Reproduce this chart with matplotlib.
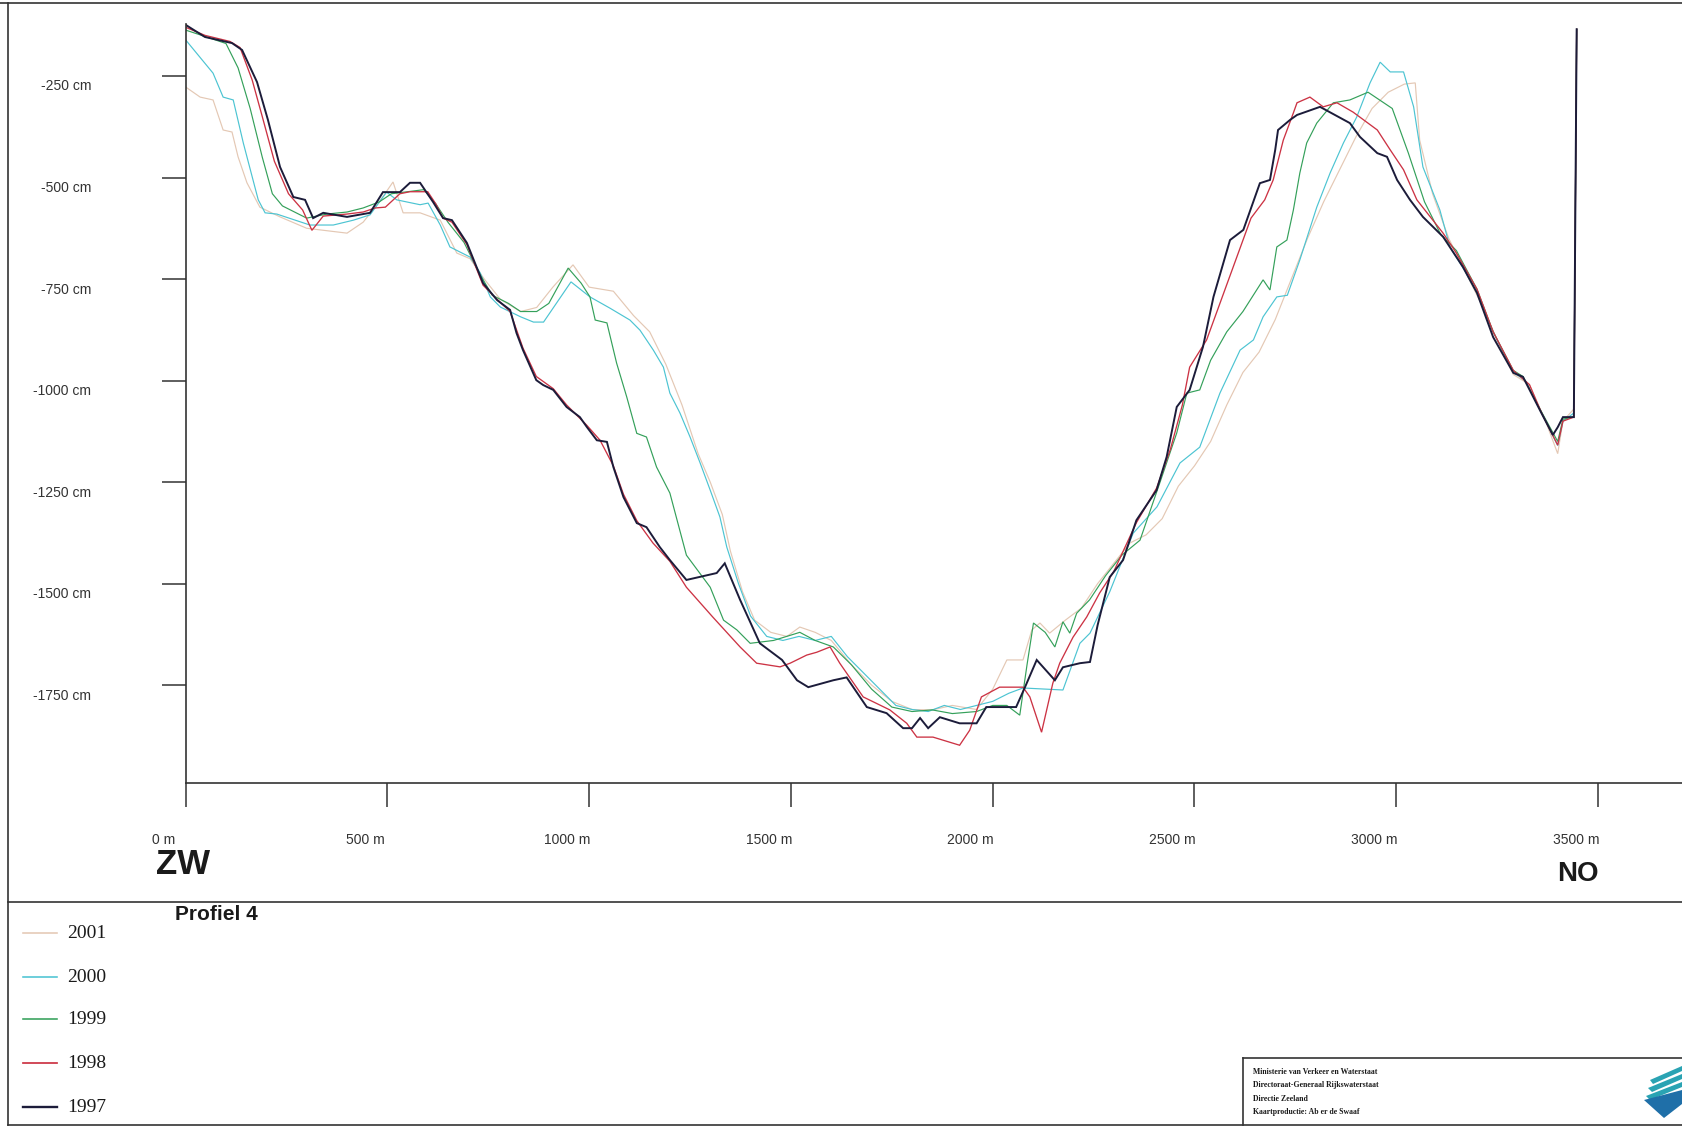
import matplotlib
matplotlib.use("Agg")
import matplotlib.pyplot as plt
from matplotlib.lines import Line2D
from matplotlib.patches import Polygon
from matplotlib.transforms import ScaledTranslation

W, H = 1682, 1127

years = ["2001", "2000", "1999", "1998", "1997"]
colors = ["#e4c8b4", "#4cc4d2", "#34a05a", "#cc3344", "#1c1c3a"]
widths = [0.85, 0.85, 0.85, 0.95, 1.4]

x1997 = [0, 48, 115, 140, 177, 204, 234, 267, 296, 316, 341, 400, 457, 489, 531, 556, 581, 613, 638, 660,
         697, 737, 772, 804, 820, 836, 869, 886, 911, 944, 977, 994, 1019, 1044, 1060, 1085, 1118, 1142, 1175,
         1200, 1241, 1316, 1336, 1374, 1423, 1478, 1515, 1543, 1605, 1638, 1688, 1737, 1778, 1800, 1820, 1840,
         1869, 1918, 1960, 1984, 2058, 2080, 2109, 2154, 2174, 2216, 2241, 2260, 2290, 2323, 2356, 2406, 2431,
         2456, 2488, 2521, 2547, 2588, 2621, 2662, 2687, 2700, 2707, 2737, 2754, 2811, 2885, 2910, 2953, 2977,
         3002, 3034, 3066, 3116, 3165, 3200, 3240, 3290, 3314, 3356, 3388, 3400, 3413, 3440, 3447]
y1997 = [-124, -154, -169, -186, -265, -358, -474, -548, -555, -600, -587, -597, -587, -536, -536, -513, -513,
         -560, -600, -605, -661, -760, -802, -826, -883, -925, -999, -1011, -1023, -1065, -1090, -1114, -1147,
         -1151, -1213, -1287, -1351, -1361, -1410, -1442, -1491, -1474, -1450, -1540, -1647, -1688, -1738, -1755,
         -1738, -1731, -1804, -1819, -1856, -1856, -1831, -1856, -1829, -1844, -1844, -1804, -1804, -1755, -1688,
         -1738, -1706, -1696, -1693, -1602, -1484, -1442, -1344, -1270, -1188, -1065, -1023, -917, -794, -654,
         -629, -514, -506, -432, -383, -358, -346, -326, -366, -400, -440, -449, -506, -555, -597, -646, -720,
         -784, -893, -981, -991, -1073, -1134, -1115, -1090, -1090, -135]

x1998 = [0, 48, 110, 135, 165, 190, 220, 255, 290, 313, 341, 400, 440, 470, 495, 531, 556, 600, 620, 638, 660,
         697, 737, 772, 804, 836, 869, 911, 944, 994, 1027, 1060, 1085, 1118, 1158, 1200, 1241, 1306, 1374, 1415,
         1473, 1498, 1539, 1564, 1597, 1621, 1679, 1745, 1787, 1812, 1852, 1918, 1943, 1972, 2017, 2075, 2092,
         2121, 2149, 2166, 2199, 2233, 2265, 2300, 2356, 2406, 2440, 2470, 2488, 2530, 2596, 2640, 2674, 2695,
         2720, 2745, 2754, 2786, 2819, 2853, 2893, 2953, 2985, 3018, 3051, 3116, 3149, 3200, 3240, 3290, 3330,
         3360, 3400, 3413, 3440, 3447]
y1998 = [-130, -150, -165, -180, -260, -350, -460, -540, -580, -630, -595, -590, -585, -575, -573, -540, -535,
         -535, -565, -600, -610, -665, -765, -800, -830, -920, -990, -1020, -1060, -1110, -1147, -1210, -1280,
         -1345, -1400, -1445, -1509, -1582, -1656, -1696, -1705, -1696, -1676, -1669, -1656, -1696, -1779, -1811,
         -1844, -1878, -1878, -1898, -1861, -1779, -1755, -1755, -1779, -1866, -1745, -1696, -1632, -1582, -1523,
         -1470, -1350, -1265, -1170, -1060, -967, -900, -720, -600, -555, -506, -408, -341, -316, -302, -326,
         -316, -339, -383, -432, -481, -555, -637, -686, -775, -880, -975, -1010, -1080, -1159, -1100, -1090, -135]

x1999 = [0, 40, 100, 130, 160, 190, 215, 240, 270, 300, 350, 400, 440, 480, 510, 550, 590, 620, 650, 690, 730,
         760, 800, 830, 870, 900, 948, 980, 1002, 1015, 1044, 1068, 1093, 1118, 1142, 1167, 1200, 1241, 1300,
         1333, 1366, 1399, 1457, 1522, 1560, 1605, 1650, 1700, 1750, 1800, 1850, 1900, 1960, 2000, 2035, 2067,
         2085, 2101, 2130, 2154, 2174, 2191, 2208, 2240, 2280, 2320, 2365, 2414, 2456, 2481, 2513, 2540, 2580,
         2620, 2670, 2687, 2704, 2729, 2745, 2761, 2778, 2803, 2844, 2885, 2930, 2990, 3030, 3070, 3110, 3149,
         3200, 3240, 3290, 3314, 3356, 3400, 3413, 3440, 3447]
y1999 = [-137, -150, -170, -230, -330, -450, -540, -570, -585, -600, -590, -585, -575, -560, -540, -535, -530,
         -565, -610, -660, -740, -790, -810, -830, -830, -810, -723, -760, -794, -851, -858, -957, -1040, -1130,
         -1139, -1213, -1277, -1430, -1509, -1590, -1614, -1647, -1640, -1620, -1640, -1656, -1700, -1760, -1804,
         -1815, -1811, -1820, -1815, -1800, -1800, -1824, -1700, -1597, -1620, -1656, -1594, -1622, -1573, -1540,
         -1480, -1430, -1393, -1252, -1129, -1031, -1023, -950, -880, -830, -752, -777, -671, -654, -580, -489,
         -415, -366, -316, -309, -290, -330, -440, -560, -640, -680, -775, -880, -975, -990, -1070, -1150, -1095,
         -1090, -135]

x2000 = [0, 68, 93, 118, 143, 180, 197, 226, 308, 366, 416, 457, 498, 523, 581, 601, 631, 655, 705, 730, 755,
         780, 830, 862, 887, 955, 1002, 1052, 1101, 1126, 1159, 1184, 1200, 1225, 1250, 1275, 1300, 1324, 1341,
         1370, 1400, 1440, 1480, 1520, 1560, 1600, 1640, 1680, 1720, 1760, 1800, 1840, 1880, 1920, 1960, 2000,
         2040, 2075, 2174, 2216, 2241, 2290, 2348, 2407, 2464, 2513, 2563, 2613, 2646, 2670, 2704, 2730, 2761,
         2803, 2836, 2869, 2902, 2935, 2960, 2985, 3018, 3043, 3066, 3108, 3133, 3170, 3200, 3240, 3290, 3320,
         3360, 3400, 3413, 3440, 3447]
y2000 = [-161, -243, -302, -309, -415, -555, -587, -590, -617, -617, -605, -592, -536, -555, -567, -563, -617,
         -671, -696, -735, -794, -819, -843, -856, -856, -757, -794, -822, -851, -876, -925, -967, -1031, -1080,
         -1139, -1203, -1270, -1336, -1410, -1500, -1580, -1630, -1640, -1630, -1640, -1630, -1680, -1720, -1760,
         -1800, -1810, -1815, -1800, -1810, -1800, -1790, -1770, -1757, -1762, -1647, -1622, -1520, -1376, -1311,
         -1203, -1164, -1031, -925, -900, -843, -794, -790, -703, -573, -489, -415, -351, -267, -216, -240, -240,
         -326, -474, -580, -671, -730, -785, -880, -980, -1000, -1080, -1160, -1100, -1080, -135]

x2001 = [0, 36, 68, 93, 115, 130, 152, 184, 234, 300, 400, 440, 480, 514, 539, 581, 631, 672, 705, 740, 780,
         830, 870, 910, 960, 1000, 1060, 1110, 1150, 1190, 1230, 1270, 1300, 1330, 1350, 1380, 1410, 1450, 1490,
         1522, 1560, 1600, 1650, 1700, 1750, 1800, 1850, 1900, 1960, 2000, 2035, 2075, 2097, 2117, 2141, 2180,
         2220, 2260, 2300, 2340, 2380, 2420, 2460, 2500, 2540, 2580, 2620, 2660, 2700, 2740, 2780, 2820, 2860,
         2900, 2940, 2980, 3020, 3047, 3058, 3090, 3130, 3170, 3210, 3250, 3290, 3330, 3370, 3400, 3413, 3440,
         3447]
y2001 = [-277, -302, -309, -383, -388, -449, -513, -573, -597, -625, -637, -610, -560, -511, -587, -587, -605,
         -686, -700, -750, -800, -830, -820, -770, -715, -770, -780, -840, -880, -960, -1060, -1180, -1250, -1330,
         -1420, -1520, -1590, -1620, -1630, -1607, -1620, -1640, -1700, -1750, -1790, -1810, -1811, -1800, -1810,
         -1760, -1688, -1688, -1614, -1597, -1622, -1590, -1560, -1500, -1450, -1400, -1380, -1340, -1260, -1210,
         -1150, -1060, -980, -930, -850, -750, -650, -560, -480, -400, -330, -290, -270, -267, -408, -540, -650,
         -730, -810, -900, -985, -1010, -1100, -1180, -1100, -1070, -135]

series_x = [x2001, x2000, x1999, x1998, x1997]
series_y = [y2001, y2000, y1999, y1998, y1997]

yticks = [-250, -500, -750, -1000, -1250, -1500, -1750]
ytick_labels = ["-250 cm", "-500 cm", "-750 cm", "-1000 cm", "-1250 cm", "-1500 cm", "-1750 cm"]
xticks = [0, 500, 1000, 1500, 2000, 2500, 3000, 3500]
xtick_labels = ["0 m", "500 m", "1000 m", "1500 m", "2000 m", "2500 m", "3000 m", "3500 m"]

plt.rcParams["font.family"] = ["Liberation Sans", "DejaVu Sans"]

fig = plt.figure(figsize=(W / 100, H / 100), dpi=100)
fig.patch.set_facecolor("white")


def fx(X):
    return X / W


def fy(Y):
    return 1 - Y / H


ax = fig.add_axes([fx(185.6), fy(783), fx(W) - fx(185.6), fy(24) - fy(783)])
ax.set_xlim(0, 3708)
ax.set_ylim(-1991, -122)
for s in ["top", "right"]:
    ax.spines[s].set_visible(False)
for s in ["left", "bottom"]:
    ax.spines[s].set_color("#333333")
    ax.spines[s].set_linewidth(1.2)

for xs, ys, c, lw in zip(series_x, series_y, colors, widths):
    ax.plot(xs, ys, color=c, lw=lw, solid_joinstyle="miter")

ax.set_yticks(yticks)
ax.set_yticklabels(ytick_labels)
ax.set_xticks(xticks)
ax.set_xticklabels(xtick_labels)
ax.tick_params(axis="both", direction="out", length=17, width=1.1, color="#333333",
               labelsize=10, labelcolor="#333333")
ax.tick_params(axis="y", pad=51)
ax.tick_params(axis="x", pad=19)
for lab in ax.get_yticklabels():
    lab.set_transform(lab.get_transform() + ScaledTranslation(0, -0.09, fig.dpi_scale_trans))
for lab in ax.get_xticklabels():
    lab.set_transform(lab.get_transform() + ScaledTranslation(-0.22, 0, fig.dpi_scale_trans))

# direction labels and title
fig.text(fx(156), fy(864), "ZW", fontsize=25, fontweight="bold", color="#1a1a1a", va="center", ha="left")
fig.text(fx(1599), fy(874), "NO", fontsize=20, fontweight="bold", color="#1a1a1a", va="center", ha="right")
fig.text(fx(175), fy(914), "Profiel 4", fontsize=15, fontweight="bold", color="#1a1a1a", va="center", ha="left")

# frame lines
frame_kw = dict(color="#333333", lw=1.2, transform=fig.transFigure)
fig.add_artist(Line2D([fx(0), fx(W)], [fy(3), fy(3)], **frame_kw))
fig.add_artist(Line2D([fx(8), fx(8)], [fy(3), fy(1125)], **frame_kw))
fig.add_artist(Line2D([fx(8), fx(W)], [fy(1125), fy(1125)], **frame_kw))
fig.add_artist(Line2D([fx(8), fx(W)], [fy(902), fy(902)], **frame_kw))
fig.add_artist(Line2D([fx(1243), fx(W)], [fy(1058), fy(1058)], **frame_kw))
fig.add_artist(Line2D([fx(1243), fx(1243)], [fy(1058), fy(1125)], **frame_kw))

# legend
leg_y = [933, 977, 1019, 1063, 1107]
for yr, c, lw, Y in zip(years, colors, widths, leg_y):
    fig.add_artist(Line2D([fx(23), fx(57)], [fy(Y), fy(Y)], color=c, lw=lw + 0.3,
                          transform=fig.transFigure))
    fig.text(fx(67), fy(Y), yr, fontsize=14, family=["Liberation Serif", "DejaVu Serif"],
             color="#1a1a1a", va="center", ha="left")

# credits box
credits = ["Ministerie van Verkeer en Waterstaat",
           "Directoraat-Generaal Rijkswaterstaat",
           "Directie Zeeland",
           "Kaartproductie: Ab er de Swaaf"]
for i, line in enumerate(credits):
    fig.text(fx(1253), fy(1072 + i * 13.3), line, fontsize=5.6, fontweight="bold",
             family=["Liberation Serif", "DejaVu Serif"], color="#1a1a1a", va="center", ha="left")

# logo (decorative)
logo_teal = "#2aa3b3"
logo_blue = "#1f6fa8"
stripes = [
    [(1650, 1080), (1682, 1066), (1682, 1071), (1653, 1084)],
    [(1648, 1088), (1682, 1074), (1682, 1079), (1652, 1092)],
    [(1646, 1096), (1682, 1082), (1682, 1087), (1650, 1100)],
]
for pts in stripes:
    fig.add_artist(Polygon([(fx(a), fy(b)) for a, b in pts], closed=True, facecolor=logo_teal,
                           edgecolor="none", transform=fig.transFigure))
fig.add_artist(Polygon([(fx(a), fy(b)) for a, b in [(1644, 1100), (1682, 1090), (1682, 1104), (1664, 1118)]],
                       closed=True, facecolor=logo_blue, edgecolor="none", transform=fig.transFigure))

fig.savefig("out.png", dpi=100, facecolor="white")
